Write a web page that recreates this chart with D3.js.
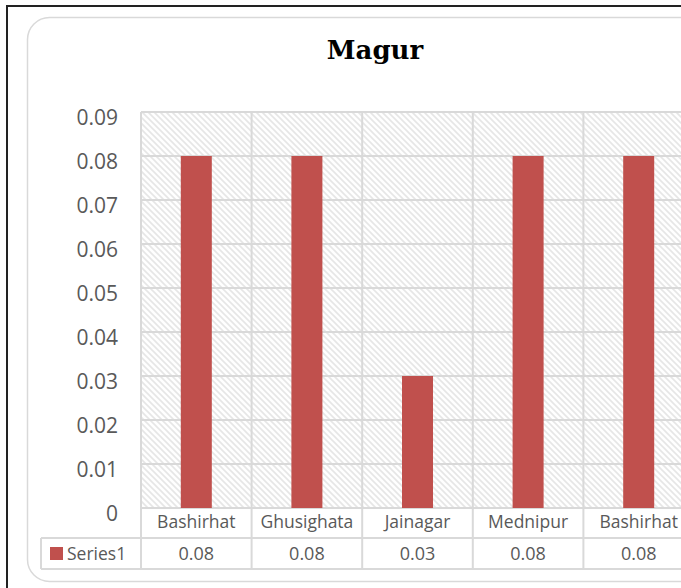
<!DOCTYPE html>
<html>
<head>
<meta charset="utf-8">
<script src="https://cdn.jsdelivr.net/npm/d3@7"></script>
<style>
  html, body { margin: 0; padding: 0; background: #fff; overflow: hidden; }
  svg { display: block; }
</style>
</head>
<body>
<script>
// chart data
var title = "Magur";
var seriesName = "Series1";
var categories = ["Bashirhat", "Ghusighata", "Jainagar", "Mednipur", "Bashirhat "];
var values = [0.08, 0.08, 0.03, 0.08, 0.08];
var valueLabels = ["0.08", "0.08", "0.03", "0.08", "0.08"];
var yTicks = [0, 0.01, 0.02, 0.03, 0.04, 0.05, 0.06, 0.07, 0.08, 0.09];

var W = 681, H = 588;
var grid = "#d9d9d9", txt = "#595959", barColor = "#c0504d";

var svg = d3.select("body").append("svg")
  .attr("width", W).attr("height", H);

var defs = svg.append("defs");
var pat = defs.append("pattern")
  .attr("id", "hatch")
  .attr("patternUnits", "userSpaceOnUse")
  .attr("width", 6).attr("height", 6);
pat.append("rect").attr("width", 6).attr("height", 6).attr("fill", "#fff");
pat.append("path")
  .attr("d", "M-1,-1 L7,7 M-4,2 L2,8 M4,-2 L10,4")
  .attr("stroke", "#e6e6e6").attr("stroke-width", 1.6);

// outer frames
svg.append("rect")
  .attr("x", 7).attr("y", 6).attr("width", 760).attr("height", 640)
  .attr("fill", "none").attr("stroke", "#222").attr("stroke-width", 2);
svg.append("rect")
  .attr("x", 27.5).attr("y", 17.5).attr("width", 720).attr("height", 564)
  .attr("rx", 22).attr("ry", 22)
  .attr("fill", "#fff").attr("stroke", grid).attr("stroke-width", 1.5);

svg.append("text")
  .attr("x", 375).attr("y", 59)
  .attr("text-anchor", "middle")
  .attr("font-family", "DejaVu Serif")
  .attr("font-weight", "bold")
  .attr("font-size", 26)
  .attr("fill", "#000")
  .text(title);

var left = 141, bandW = 110.6;
var x = d3.scaleBand()
  .domain(d3.range(categories.length))
  .range([left, left + bandW * categories.length])
  .paddingInner(0).paddingOuter(0);
var y = d3.scaleLinear().domain([0, 0.09]).range([508, 112]);

var plotR = x.range()[1];
var rowTop = 508, rowMid = 538, rowBot = 569, tableLeft = 41;

// hatched plot background
svg.append("rect")
  .attr("x", left).attr("y", y(0.09))
  .attr("width", plotR - left).attr("height", y(0) - y(0.09))
  .attr("fill", "url(#hatch)");

// horizontal gridlines
svg.append("g").selectAll("line")
  .data(yTicks)
  .join("line")
  .attr("x1", left).attr("x2", plotR)
  .attr("y1", function (d) { return y(d); })
  .attr("y2", function (d) { return y(d); })
  .attr("stroke", grid).attr("stroke-width", 2);

// vertical lines at band edges, through the data table
var edges = categories.map(function (c, i) { return x(i); }).concat([plotR]);
svg.append("g").selectAll("line")
  .data(edges)
  .join("line")
  .attr("x1", function (d) { return d; }).attr("x2", function (d) { return d; })
  .attr("y1", y(0.09)).attr("y2", rowBot)
  .attr("stroke", grid).attr("stroke-width", 2);

// table rows
[rowMid, rowBot].forEach(function (yy) {
  svg.append("line")
    .attr("x1", tableLeft).attr("x2", plotR)
    .attr("y1", yy).attr("y2", yy)
    .attr("stroke", grid).attr("stroke-width", 2);
});
svg.append("line")
  .attr("x1", tableLeft).attr("x2", tableLeft)
  .attr("y1", rowMid).attr("y2", rowBot)
  .attr("stroke", grid).attr("stroke-width", 2);

// bars
var barW = 31;
svg.append("g").selectAll("rect")
  .data(values)
  .join("rect")
  .attr("x", function (d, i) { return x(i) + x.bandwidth() / 2 - barW / 2; })
  .attr("y", function (d) { return y(d); })
  .attr("width", barW)
  .attr("height", function (d) { return y(0) - y(d); })
  .attr("fill", barColor);

// y axis labels
var yAxis = d3.axisLeft(y).tickValues(yTicks)
  .tickFormat(function (d) { return d === 0 ? "0" : d3.format(".2f")(d); })
  .tickSize(0).tickPadding(0);
var ya = svg.append("g").attr("transform", "translate(118,0)").call(yAxis);
ya.select(".domain").remove();
ya.selectAll("text")
  .attr("font-family", "Open Sans")
  .attr("font-size", 21)
  .attr("fill", txt)
  .attr("dy", "0.6em");

// category labels (first table row)
svg.append("g").selectAll("text")
  .data(categories)
  .join("text")
  .attr("x", function (d, i) { return x(i) + x.bandwidth() / 2; })
  .attr("y", 528)
  .attr("text-anchor", "middle")
  .attr("font-family", "Open Sans")
  .attr("font-size", 17.5)
  .attr("fill", txt)
  .text(function (d) { return d.trim(); });

// value row
svg.append("g").selectAll("text")
  .data(valueLabels)
  .join("text")
  .attr("x", function (d, i) { return x(i) + x.bandwidth() / 2; })
  .attr("y", 560)
  .attr("text-anchor", "middle")
  .attr("font-family", "Open Sans")
  .attr("font-size", 18)
  .attr("fill", txt)
  .text(function (d) { return d; });

// legend key in table
svg.append("rect")
  .attr("x", 50).attr("y", 547).attr("width", 13).attr("height", 13)
  .attr("fill", barColor);
svg.append("text")
  .attr("x", 67).attr("y", 560)
  .attr("font-family", "Open Sans")
  .attr("font-size", 17.5)
  .attr("fill", txt)
  .text(seriesName);
</script>
</body>
</html>
